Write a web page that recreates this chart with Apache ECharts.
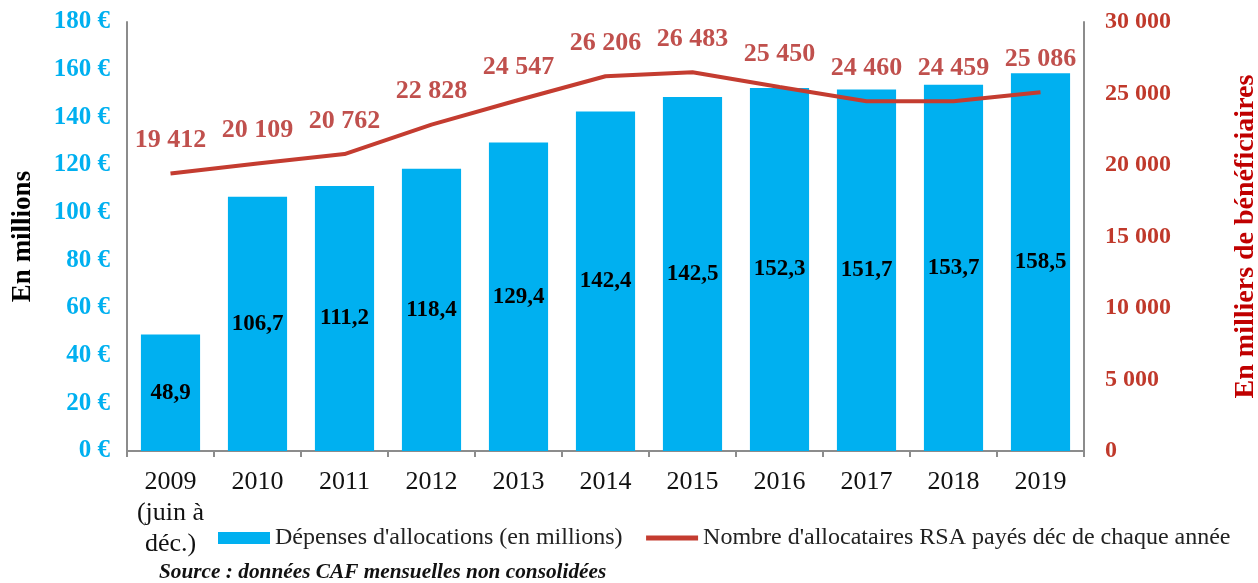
<!DOCTYPE html>
<html lang="fr">
<head>
    <meta charset="UTF-8">
    <script src="https://cdn.jsdelivr.net/npm/echarts@6/dist/echarts.min.js"></script>
    <title>RSA</title>
</head>
<body>
    <style>
        html, body, #main {
            margin: 0;
            width: 1258px;
            height: 583px;
            background: #fff;
        }
    </style>
    <div id="main"></div>
    <script>
        var years = ['2009\n(juin à\ndéc.)', '2010', '2011', '2012', '2013', '2014', '2015', '2016', '2017', '2018', '2019'];
        // bar heights as drawn (2015 bar is drawn taller than its label)
        var depenses = [48.9, 106.7, 111.2, 118.4, 129.4, 142.4, 148.5, 152.3, 151.7, 153.7, 158.5];
        var depensesLabels = ['48,9', '106,7', '111,2', '118,4', '129,4', '142,4', '142,5', '152,3', '151,7', '153,7', '158,5'];
        var allocataires = [19412, 20109, 20762, 22828, 24547, 26206, 26483, 25450, 24460, 24459, 25086];

        var serif = '"Liberation Serif", "Times New Roman", serif';

        function spaced(v) {
            return String(v).replace(/\B(?=(\d{3})+(?!\d))/g, ' ');
        }

        var chart = echarts.init(document.getElementById('main'));
        chart.setOption({
            animation: false,
            textStyle: { fontFamily: serif },
            title: {
                text: 'Source : données CAF mensuelles non consolidées',
                left: 159,
                top: 562,
                padding: 0,
                textStyle: { fontFamily: serif, fontSize: 21.3, fontWeight: 'bold', fontStyle: 'italic', color: '#111' }
            },
            legend: {
                left: 218,
                top: 526,
                padding: 0,
                itemWidth: 52,
                itemHeight: 12,
                itemGap: 21,
                textStyle: { fontFamily: serif, fontSize: 24, color: '#222' },
                data: [
                    { name: "Dépenses d'allocations (en millions)", icon: 'rect' },
                    {
                        name: "Nombre d'allocataires RSA payés déc de chaque année",
                        itemStyle: { opacity: 0 },
                        lineStyle: { width: 5 }
                    }
                ]
            },
            grid: { left: 127, right: 174, top: 22, bottom: 132, outerBoundsMode: 'none', containLabel: false },
            xAxis: {
                type: 'category',
                data: years,
                axisLine: { lineStyle: { color: '#8c8c8c', width: 2 } },
                axisTick: { show: true, alignWithLabel: false, length: 6, lineStyle: { color: '#8c8c8c', width: 2 } },
                axisLabel: { color: '#111', fontFamily: serif, fontSize: 26, margin: 16, lineHeight: 31, interval: 0 }
            },
            yAxis: [
                {
                    type: 'value',
                    min: 0, max: 180, interval: 20,
                    name: 'En millions',
                    nameLocation: 'middle',
                    nameRotate: 90,
                    nameGap: 90,
                    nameTextStyle: { color: '#000', fontFamily: serif, fontSize: 27, fontWeight: 'bold' },
                    splitLine: { show: false },
                    axisLine: { show: true, lineStyle: { color: '#8c8c8c', width: 2 } },
                    axisTick: { show: false },
                    axisLabel: {
                        color: '#00b0f0', fontFamily: serif, fontSize: 25, fontWeight: 'bold', margin: 17,
                        formatter: function (v) { return v + ' €'; }
                    }
                },
                {
                    type: 'value',
                    min: 0, max: 30000, interval: 5000,
                    name: 'En milliers de bénéficiaires',
                    nameLocation: 'middle',
                    nameRotate: 90,
                    nameGap: 148,
                    nameTextStyle: { color: '#c00000', fontFamily: serif, fontSize: 28, fontWeight: 'bold' },
                    splitLine: { show: false },
                    axisLine: { show: true, lineStyle: { color: '#8c8c8c', width: 2 } },
                    axisTick: { show: false },
                    axisLabel: {
                        color: '#c0392b', fontFamily: serif, fontSize: 24, fontWeight: 'bold', margin: 21,
                        formatter: spaced
                    }
                }
            ],
            series: [
                {
                    name: "Dépenses d'allocations (en millions)",
                    type: 'bar',
                    data: depenses,
                    barWidth: '68%',
                    itemStyle: { color: '#00b0f0' },
                    label: {
                        show: true,
                        position: 'inside',
                        color: '#000',
                        fontFamily: serif,
                        fontSize: 23,
                        fontWeight: 'bold',
                        formatter: function (p) { return depensesLabels[p.dataIndex]; }
                    }
                },
                {
                    name: "Nombre d'allocataires RSA payés déc de chaque année",
                    type: 'line',
                    yAxisIndex: 1,
                    data: allocataires,
                    symbol: 'circle',
                    symbolSize: 0,
                    showSymbol: true,
                    lineStyle: { color: '#c43c30', width: 4 },
                    itemStyle: { color: '#c43c30' },
                    label: {
                        show: true,
                        position: 'top',
                        distance: 20,
                        color: '#c0504d',
                        fontFamily: serif,
                        fontSize: 26,
                        fontWeight: 'bold',
                        formatter: function (p) { return spaced(p.value); }
                    },
                    labelLayout: { hideOverlap: false }
                }
            ]
        });
    </script>
</body>
</html>
